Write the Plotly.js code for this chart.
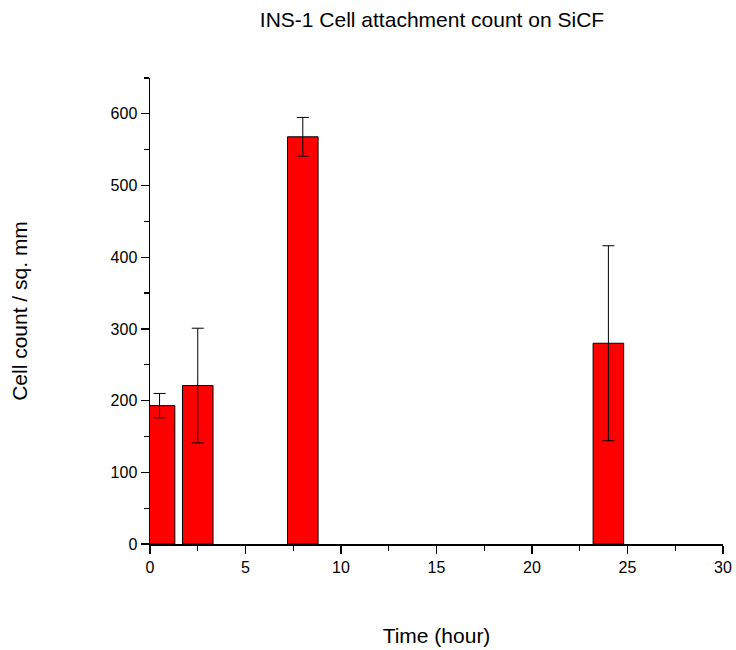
<!DOCTYPE html>
<html>
<head>
<meta charset="utf-8">
<script src="https://cdn.plot.ly/plotly-3.0.1.min.js"></script>
<style>html,body{margin:0;padding:0;background:#fff;}</style>
</head>
<body>
<div id="chart" style="width:736px;height:650px;"></div>
<script>
// Attachment time points (hours) and mean cell counts per sq. mm with SD
const timeHours = [0.5, 2.5, 8, 24];
const cellCount = [193, 221, 568, 280];
const cellCountErr = [17, 80, 27, 136];

const trace = {
  type: 'bar',
  x: timeHours,
  y: cellCount,
  width: 1.6,
  marker: { color: '#ff0000', line: { color: '#000000', width: 1 } },
  error_y: { type: 'data', array: cellCountErr, visible: true, color: '#000000', thickness: 1, width: 6 },
  hoverinfo: 'x+y'
};

const fam = 'Liberation Sans, Arial, sans-serif';
const titleSize = 21;
const tickSize = 16;

const layout = {
  width: 736,
  height: 650,
  margin: { l: 150, r: 13, t: 78, b: 106 },
  paper_bgcolor: '#ffffff',
  plot_bgcolor: '#ffffff',
  showlegend: false,
  font: { family: fam, color: '#000000' },
  title: {
    text: 'INS-1 Cell attachment count on SiCF',
    font: { family: fam, size: titleSize, color: '#000000' },
    x: 432 / 736, xanchor: 'center', y: 1 - 20 / 650, yanchor: 'middle', yref: 'container'
  },
  xaxis: {
    range: [0, 30],
    dtick: 5,
    tick0: 0,
    ticks: 'outside',
    ticklen: 8,
    tickwidth: 1.2,
    tickcolor: '#000',
    showline: true,
    linecolor: '#000',
    linewidth: 1.5,
    showgrid: false,
    zeroline: false,
    tickfont: { size: tickSize, family: fam, color: '#000' },
    minor: { dtick: 2.5, ticks: 'outside', ticklen: 5, tickcolor: '#000', tickwidth: 1.2, showgrid: false },
    title: { text: 'Time (hour)', font: { size: titleSize, family: fam, color: '#000' }, standoff: 53 }
  },
  yaxis: {
    range: [0, 650],
    dtick: 100,
    tick0: 0,
    ticks: 'outside',
    ticklen: 8,
    tickwidth: 1.2,
    tickcolor: '#000',
    showline: true,
    linecolor: '#000',
    linewidth: 1.5,
    showgrid: false,
    zeroline: false,
    tickfont: { size: tickSize, family: fam, color: '#000' },
    minor: { dtick: 50, ticks: 'outside', ticklen: 5, tickcolor: '#000', tickwidth: 1.2, showgrid: false },
    title: { text: 'Cell count / sq. mm', font: { size: titleSize, family: fam, color: '#000' }, standoff: 77 }
  }
};

Plotly.newPlot('chart', [trace], layout, { displayModeBar: false, staticPlot: true });
</script>
</body>
</html>
